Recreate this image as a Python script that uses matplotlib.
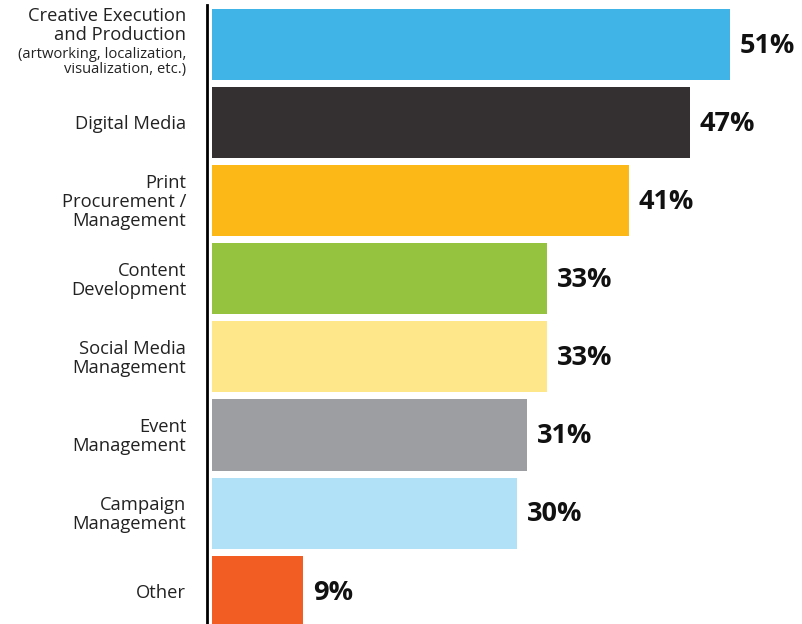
import matplotlib
matplotlib.use("Agg")
import matplotlib.pyplot as plt

categories = [
    "Creative Execution\nand Production",
    "Digital Media",
    "Print\nProcurement /\nManagement",
    "Content\nDevelopment",
    "Social Media\nManagement",
    "Event\nManagement",
    "Campaign\nManagement",
    "Other",
]
first_note = "(artworking, localization,\nvisualization, etc.)"
values = [51, 47, 41, 33, 33, 31, 30, 9]
colors = ["#41b4e7", "#343031", "#fbb817", "#96c33f", "#fee78b",
          "#9d9ea2", "#b1e1f7", "#f15d22"]

plt.rcParams["font.family"] = ["Open Sans", "DejaVu Sans"]

fig = plt.figure(figsize=(8.03, 6.24), dpi=100)
ax = fig.add_axes([207 / 803, 0, 596 / 803, 1 - 5 / 624])

ypos = list(range(len(values)))
ax.barh(ypos, values, height=0.91, color=colors, left=0)

ax.set_xlim(-0.49, 58.17)
ax.set_ylim(7.42, -0.506)

for spine in ["top", "right", "bottom"]:
    ax.spines[spine].set_visible(False)
ax.spines["left"].set_linewidth(2)
ax.spines["left"].set_color("black")
ax.set_xticks([])
ax.set_yticks([])

# value labels to the right of each bar
for y, v in zip(ypos, values):
    ax.annotate(f"{v}%", xy=(v, y), xytext=(7, -1), textcoords="offset points",
                ha="left", va="center", fontsize=19.5, fontweight="bold",
                color="#111111")

# category labels on the left
for y, label in zip(ypos, categories):
    if y == 0:
        ax.annotate(label, xy=(-0.49, y), xytext=(-15, 14),
                    textcoords="offset points", ha="right", va="center",
                    fontsize=13.2, color="#222222", linespacing=1.08,
                    annotation_clip=False)
        ax.annotate(first_note, xy=(-0.49, y), xytext=(-15, -12.5),
                    textcoords="offset points", ha="right", va="center",
                    fontsize=10.6, color="#222222", linespacing=0.98,
                    annotation_clip=False)
    else:
        ax.annotate(label, xy=(-0.49, y), xytext=(-15, -1),
                    textcoords="offset points", ha="right", va="center",
                    fontsize=13.2, color="#222222", linespacing=1.08,
                    annotation_clip=False)

fig.savefig("out.png", dpi=100)
